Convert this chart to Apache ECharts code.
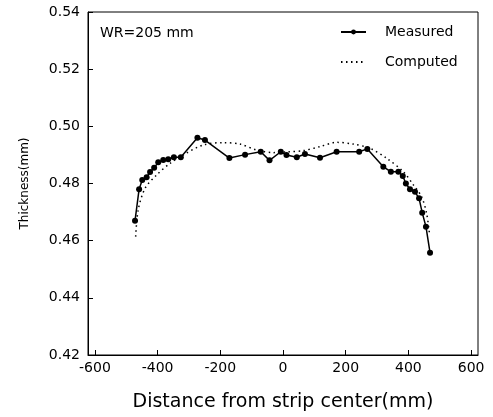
<!DOCTYPE html>
<html>
<head>
<meta charset="utf-8">
<script src="https://cdn.jsdelivr.net/npm/echarts@6/dist/echarts.min.js"></script>
<style>html,body{margin:0;padding:0;background:#fff;}#c{width:493px;height:417px;}</style>
</head>
<body>
<div id="c"></div>
<script>
var measuredX = [-472,-459,-449,-435,-424,-411,-398,-382,-366,-348,-326,-273,-249,-171,-121,-71,-43,-7,11,44,70,118,171,243,269,320,344,368,382,392,405,421,434,444,456,469];
var measuredY = [0.467,0.478,0.4812,0.4822,0.484,0.4855,0.4874,0.4882,0.4885,0.4892,0.4892,0.496,0.4952,0.4889,0.4901,0.4911,0.4881,0.4911,0.490,0.4892,0.4903,0.489,0.4911,0.4911,0.4921,0.4859,0.4841,0.4841,0.4826,0.480,0.478,0.4771,0.4748,0.4698,0.4649,0.4558];
var computedX = [-470,-462,-440,-403,-361,-318,-254,-190,-137,-84,-31,15,65,118,171,224,278,331,384,416,442,458,467];
var computedY = [0.4614,0.4707,0.4783,0.483,0.487,0.490,0.4935,0.4943,0.4938,0.4917,0.4908,0.4911,0.4915,0.4929,0.4944,0.4938,0.4923,0.4888,0.4841,0.4795,0.4754,0.4696,0.4626];
var xTicks = [-600,-400,-200,0,200,400,600];

function pairs(xs, ys){ return xs.map(function(x,i){ return [x, ys[i]]; }); }

var font = '"DejaVu Sans", Verdana, sans-serif';
var chart = echarts.init(document.getElementById('c'));
chart.setOption({
  animation: false,
  grid: {left: 88, right: 15, top: 12, bottom: 62, show: true, borderColor: '#000', borderWidth: 1},
  legend: [
    {left: 340, top: 25, itemWidth: 25, itemHeight: 6, padding: 0,
     textStyle: {fontFamily: font, fontSize: 14, color: '#000', padding: [0, 0, 0, 14]},
     data: ['Measured']},
    {left: 340, top: 55, itemWidth: 25, itemHeight: 6, padding: 0,
     textStyle: {fontFamily: font, fontSize: 14, color: '#000', padding: [0, 0, 0, 14]},
     data: [{name: 'Computed', itemStyle: {opacity: 0}}]}
  ],
  graphic: [{type: 'text', left: 100, top: 26, style: {text: 'WR=205 mm', fontFamily: font, fontSize: 14, fill: '#000'}}],
  xAxis: {
    type: 'value', min: -622, max: 622,
    name: 'Distance from strip center(mm)', nameLocation: 'middle', nameGap: 38,
    nameTextStyle: {fontFamily: font, fontSize: 19, color: '#000'},
    axisLine: {onZero: false, lineStyle: {color: '#000', width: 1}},
    axisTick: {show: true, inside: true, length: 5, customValues: xTicks, lineStyle: {color: '#000'}},
    axisLabel: {customValues: xTicks, fontFamily: font, fontSize: 14, color: '#000', margin: 6},
    splitLine: {show: false}
  },
  yAxis: {
    type: 'value', min: 0.42, max: 0.54, interval: 0.02,
    name: 'Thickness(mm)', nameLocation: 'middle', nameGap: 57,
    nameTextStyle: {fontFamily: font, fontSize: 12, color: '#000'},
    axisLine: {show: true, onZero: false, lineStyle: {color: '#000', width: 1}},
    axisTick: {show: true, inside: true, length: 5, lineStyle: {color: '#000'}},
    axisLabel: {fontFamily: font, fontSize: 14, color: '#000', margin: 8, formatter: function(v){ return v.toFixed(2); }},
    splitLine: {show: false}
  },
  series: [
    {name: 'Measured', type: 'line', data: pairs(measuredX, measuredY), symbol: 'circle', symbolSize: 6,
     lineStyle: {color: '#000', width: 1.5}, itemStyle: {color: '#000'}},
    {name: 'Computed', type: 'line', data: pairs(computedX, computedY), symbol: 'none', smooth: 0.3,
     lineStyle: {color: '#000', width: 1.5, type: [1.5, 3.5]}, itemStyle: {color: '#000'}}
  ]
});
</script>
</body>
</html>
